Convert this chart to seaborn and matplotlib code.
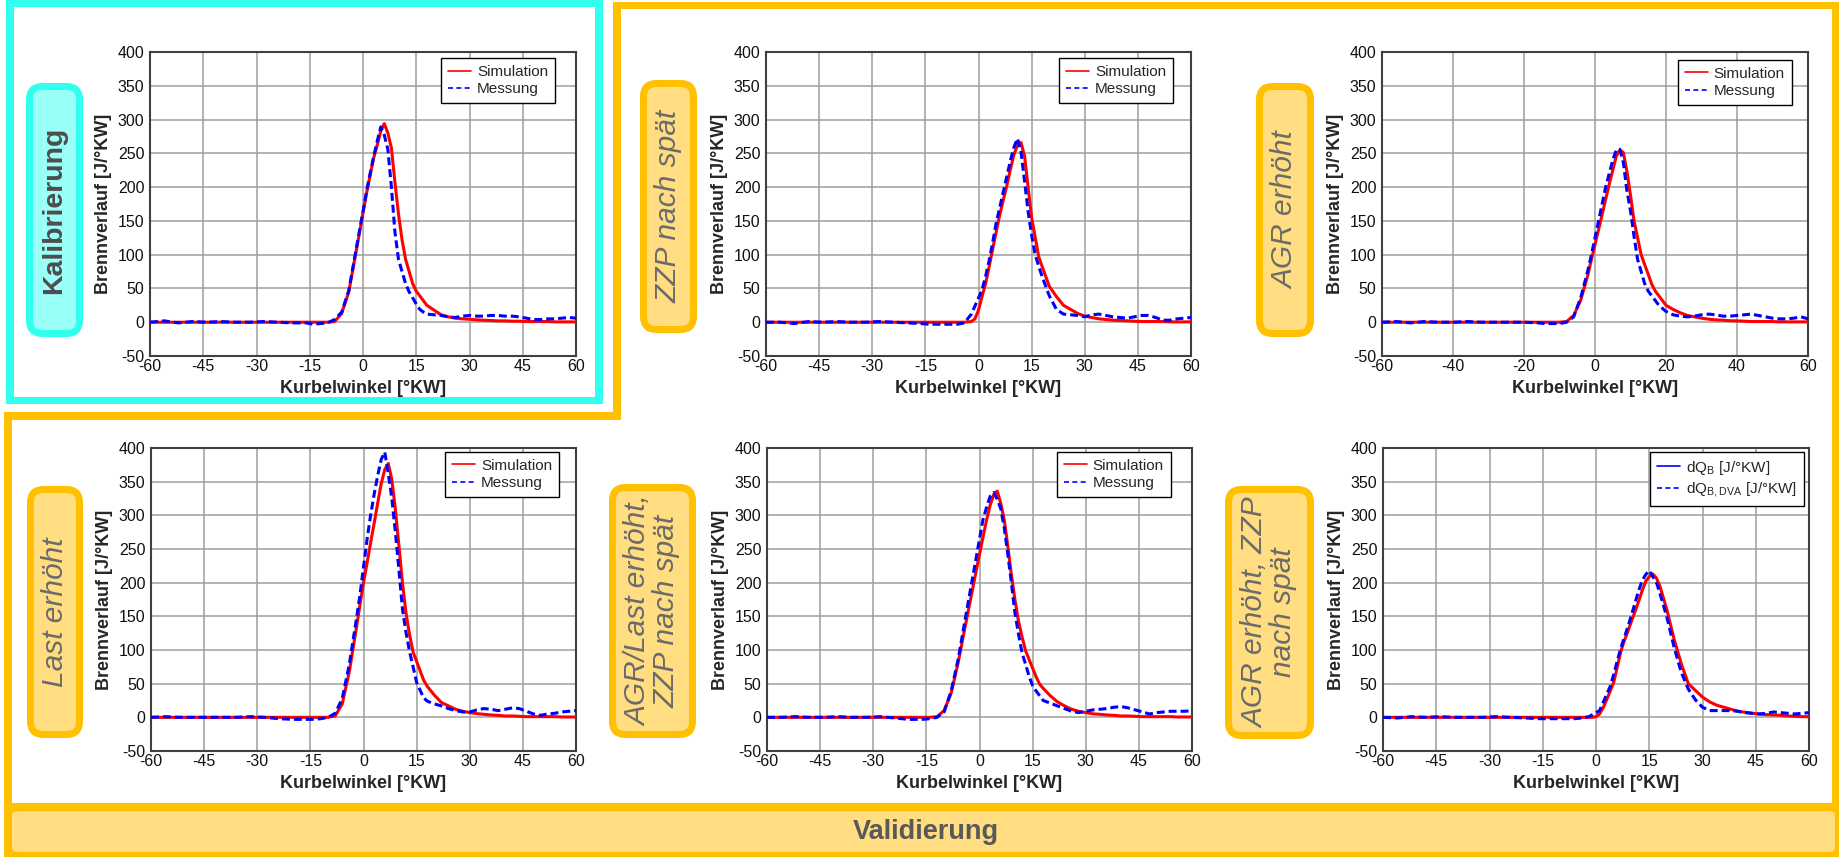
import seaborn as sns
import matplotlib.pyplot as plt
from matplotlib.patches import Rectangle, FancyBboxPatch
from matplotlib.lines import Line2D

# crank angle grid [°KW]
kw = [-60, -56, -52, -48, -44, -40, -36, -32, -28, -24, -20, -16,
      -14, -12, -10, -8, -6, -4,
      -2, -1, 0, 1, 2, 3, 4, 5, 6, 7, 8, 9, 10, 11, 12, 13, 14, 15, 16, 17, 18,
      20, 22, 24, 26, 28, 30, 32, 34, 36, 38, 40, 42, 44, 46, 48, 50, 52, 54, 56, 58, 60]

# heat release rate [J/°KW], simulation / measurement per operating point
sim_kal = [0, 0, 0, 0, 0, 0, 0, 0, 0, 0, 0, 0,
           0, 0, 0, 1, 13, 45,
           103, 132, 162, 191, 217, 243, 262, 283, 294, 280, 258, 207, 160, 122, 93, 75, 57, 46, 39, 32, 25,
           18, 11, 8, 6, 5, 4.5, 3.5, 3, 2.5, 2, 2, 1.5, 1.5, 1, 1, 1, 1, 0.5, 0.5, 0.5, 0.5]
mes_kal = [0, 2, -1, 1, 0, 1, 0, 0, 1, 0, -1, -1,
           -3, -2, -1, 4, 15, 47,
           106, 135, 164, 194, 220, 245, 268, 289, 277, 256, 200, 133, 93, 75, 57, 45, 36, 27, 19, 15, 12,
           11, 10, 8, 7, 9, 10, 9, 9, 10, 10, 9, 9, 8, 6, 4, 4, 5, 5, 6, 7, 6]

sim_zzp = [0, 0, 0, 0, 0, 0, 0, 0, 0, 0, 0, 0,
           0, 0, 0, 0, 0, 0,
           1, 5, 18, 38, 57, 82, 108, 134, 159, 181, 202, 226, 248, 262, 266, 246, 200, 155, 126, 97, 82,
           53, 38, 25, 19, 13, 9, 7, 5, 4, 3, 2.5, 2, 1.5, 1, 1, 1, 1, 0.5, 0.5, 0.5, 0.5]
mes_zzp = [0, 0, -2, 1, 0, 1, 0, 0, 1, 0, -1, -2,
           -3, -3, -3, -3, -3, -1,
           12, 24, 36, 48, 68, 91, 118, 147, 170, 193, 216, 239, 259, 272, 252, 209, 164, 129, 100, 83, 67,
           39, 19, 12, 11, 10, 8, 11, 12, 10, 8, 7, 6, 8, 10, 10, 7, 3, 3, 5, 6, 7]

sim_agr = [0, 0, 0, 0, 0, 0, 0, 0, 0, 0, 0, 0,
           0, 0, 0, 1, 10, 33,
           70, 93, 115, 137, 159, 182, 204, 225, 246, 255, 251, 223, 188, 150, 125, 100, 85, 71, 56, 46, 39,
           25, 19, 14, 10, 8, 6, 4.5, 3.5, 3, 2.2, 2, 1.5, 1, 1, 1, 1, 0.5, 0.5, 0.5, 0.5, 0.5]
mes_agr = [0, 1, -1, 1, 0, 0, 1, 0, 0, 0, 0, -1,
           -2, -2, -2, 0, 8, 37,
           77, 100, 125, 150, 175, 200, 220, 240, 255, 256, 236, 194, 165, 127, 93, 75, 57, 46, 39, 32, 25,
           16, 11, 9, 8, 9, 11, 12, 11, 9, 9, 10, 11, 12, 10, 8, 6, 5, 5, 6, 8, 5]

sim_last = [0, 0, 0, 0, 0, 0, 0, 0, 0, 0, 0, 0,
            0, 0, 0, 2, 20, 68,
            133, 167, 200, 229, 259, 288, 318, 347, 368, 377, 353, 309, 255, 200, 155, 123, 97, 83, 69, 55, 46,
            33, 22, 17, 12, 9, 7, 5.5, 4.5, 3.5, 3, 2, 2, 1.5, 1, 1, 1, 1, 1, 0.5, 0.5, 0.5]
mes_last = [0, 1, 0, 0, 0, 0, 0, 1, 0, -2, -3, -3,
            -3, -2, 0, 6, 28, 79,
            146, 182, 223, 264, 300, 331, 359, 383, 394, 362, 325, 275, 219, 161, 126, 98, 75, 52, 40, 29, 24,
            20, 17, 13, 10, 8, 8, 11, 13, 12, 10, 12, 14, 13, 9, 5, 3, 5, 6, 8, 9, 10]

sim_agr_last = [0, 0, 0, 0, 0, 0, 0, 0, 0, 0, 0, 0,
                0, 1, 10, 36, 82, 136,
                189, 216, 242, 268, 293, 315, 330, 336, 318, 293, 254, 212, 175, 143, 120, 99, 86, 73, 60, 49, 43,
                32, 23, 17, 12, 9, 7, 5.2, 4.5, 3.5, 3, 2, 2, 1.5, 1, 1, 1, 1, 1, 0.5, 0.5, 0.5]
mes_agr_last = [0, 0, 1, 0, 0, 1, 0, 0, 1, -1, -3, -3,
                -2, 0, 8, 39, 87, 147,
                206, 235, 265, 294, 312, 328, 334, 324, 310, 281, 242, 200, 155, 124, 96, 79, 61, 47, 39, 32, 25,
                21, 17, 13, 9, 7, 9, 11, 12, 13, 15, 16, 14, 11, 8, 5, 7, 8, 9, 9, 9, 10]

sim_agr_zzp = [0, 0, 0, 0, 0, 0, 0, 0, 0, 0, 0, 0,
               0, 0, 0, 0, 0, 0,
               0, 0, 1, 5, 14, 26, 39, 52, 75, 98, 114, 128, 143, 157, 172, 188, 202, 209, 213, 207, 195,
               159, 116, 80, 50, 40, 30, 23, 18, 15, 12, 9, 7.5, 6, 5, 4, 3.5, 3, 2, 1.5, 1, 1]
mes_agr_zzp = [0, -1, 1, 0, 1, 0, 0, 0, 1, 0, -1, -2,
               -2, -2, -2, -2, -2, -1,
               1, 4, 7, 10, 22, 34, 46, 64, 84, 103, 119, 135, 152, 170, 188, 203, 212, 218, 209, 201, 184,
               148, 104, 67, 42, 26, 15, 10, 10, 10, 10, 9, 7, 6, 5, 6, 8, 7, 6, 5, 6, 7]

panel_names = ["Kalibrierung", "ZZP nach spät", "AGR erhöht",
               "Last erhöht", "AGR/Last erhöht,\nZZP nach spät", "AGR erhöht, ZZP\nnach spät"]
sim_series = [sim_kal, sim_zzp, sim_agr, sim_last, sim_agr_last, sim_agr_zzp]
mes_series = [mes_kal, mes_zzp, mes_agr, mes_last, mes_agr_last, mes_agr_zzp]
legend_labels = [["Simulation", "Messung"]] * 5 + [["dQ$_{B}$ [J/°KW]", "dQ$_{B,DVA}$ [J/°KW]"]]
x_ticks_15 = [-60, -45, -30, -15, 0, 15, 30, 45, 60]
x_ticks_20 = [-60, -40, -20, 0, 20, 40, 60]
y_ticks = [-50, 0, 50, 100, 150, 200, 250, 300, 350, 400]

# ---- layout (pixels of the 1839x857 image) ----
W, H = 1839, 857
CYAN, CYAN_FILL = "#33FFEE", "#9AFFF7"
ORANGE, YELLOW_FILL = "#FFC000", "#FFDD80"
RED, BLUE = "#FF0000", "#0000FF"

sns.set_style("white")
plt.rcParams["font.family"] = ["Liberation Sans", "DejaVu Sans"]
plt.rcParams["axes.unicode_minus"] = False
plt.rcParams["mathtext.default"] = "regular"

fig = plt.figure(figsize=(W / 100, H / 100), dpi=100)

bg = fig.add_axes([0, 0, 1, 1], zorder=0)
bg.set_xlim(0, W)
bg.set_ylim(H, 0)
bg.axis("off")


def bar(x0, y0, x1, y1, color):
    bg.add_patch(Rectangle((x0, y0), x1 - x0, y1 - y0, facecolor=color, edgecolor="none"))


def label_box(box, text, edge, fill, **text_kws):
    x0, y0, x1, y1 = box
    lw = 7
    bg.add_patch(FancyBboxPatch((x0 + lw / 2, y0 + lw / 2), x1 - x0 - lw, y1 - y0 - lw,
                                boxstyle="round,pad=0,rounding_size=13",
                                facecolor=fill, edgecolor=edge, linewidth=lw * 0.72))
    bg.text((x0 + x1) / 2, (y0 + y1) / 2, text, rotation=90, ha="center", va="center",
            multialignment="center", **text_kws)


# cyan frame (Kalibrierung)
bar(6, 0, 603, 7, CYAN)
bar(6, 0, 14, 404, CYAN)
bar(595, 0, 603, 404, CYAN)
bar(6, 397, 603, 404, CYAN)
# orange frame (Validierung)
bar(613, 2, 1839, 9, ORANGE)
bar(613, 2, 621, 420, ORANGE)
bar(4, 412, 621, 420, ORANGE)
bar(4, 412, 12, 857, ORANGE)
bar(1832, 2, 1839, 857, ORANGE)
bar(4, 803, 1839, 857, ORANGE)
bg.add_patch(FancyBboxPatch((12, 811), 1823, 41, boxstyle="round,pad=0,rounding_size=5",
                            facecolor=YELLOW_FILL, edgecolor="none"))
bg.text(926, 832, "Validierung", ha="center", va="center", fontsize=19.5,
        fontweight="bold", color="#595959")

label_boxes = [(26, 83, 83, 337), (640, 80, 697, 333), (1256, 83, 1314, 337),
               (27, 486, 83, 738), (609, 484, 696, 738), (1225, 486, 1314, 739)]
for i, (box, name) in enumerate(zip(label_boxes, panel_names)):
    if i == 0:
        label_box(box, name, CYAN, CYAN_FILL, fontsize=20.5, fontweight="bold", color="#4D4D4D")
    else:
        label_box(box, name, ORANGE, YELLOW_FILL, fontsize=21.5, fontstyle="italic",
                  color="#6B6B6B", linespacing=1.0)

axes_px = [(150, 52, 576, 356), (766, 52, 1191, 356), (1382, 52, 1808, 356),
           (151, 448, 576, 751), (767, 448, 1192, 751), (1383, 448, 1809, 751)]
legend_anchor = [(0.951, 0.98), (0.958, 0.98), (0.962, 0.974),
                 (0.96, 0.987), (0.95, 0.987), (0.988, 0.987)]

for i in range(6):
    x0, y0, x1, y1 = axes_px[i]
    ax = fig.add_axes([x0 / W, 1 - y1 / H, (x1 - x0) / W, (y1 - y0) / H], zorder=2)
    ax.set_facecolor("white")
    sns.lineplot(x=kw, y=sim_series[i], ax=ax, color=RED, linewidth=2.2,
                 errorbar=None, zorder=3)
    sns.lineplot(x=kw, y=mes_series[i], ax=ax, color=BLUE, linewidth=2.2,
                 linestyle=(0, (2.6, 1.3)), errorbar=None, zorder=4)

    ax.set_xlim(-60, 60)
    ax.set_ylim(-50, 400)
    ax.set_xticks(x_ticks_20 if i == 2 else x_ticks_15)
    ax.set_yticks(y_ticks)
    ax.grid(True, color="#9E9E9E", linewidth=1.1)
    ax.set_axisbelow(True)
    for s in ax.spines.values():
        s.set_visible(True)
        s.set_color("#404040")
        s.set_linewidth(1.5)
    ax.tick_params(length=0, labelsize=11.5, colors="#111111")
    ax.tick_params(axis="x", pad=2.5)
    ax.tick_params(axis="y", pad=4)
    ax.set_xlabel("Kurbelwinkel [°KW]", fontsize=13, fontweight="bold", labelpad=4)
    ax.set_ylabel("Brennverlauf [J/°KW]", fontsize=13, fontweight="bold", labelpad=4)

    if i < 5:
        handles = [Line2D([], [], color=RED, lw=1.2),
                   Line2D([], [], color=BLUE, lw=1.2, ls=(0, (3, 2)))]
    else:
        handles = [Line2D([], [], color=BLUE, lw=1.2),
                   Line2D([], [], color=BLUE, lw=1.2, ls=(0, (3, 2)))]
    leg = ax.legend(handles, legend_labels[i], loc="upper right",
                    bbox_to_anchor=legend_anchor[i], borderaxespad=0, fontsize=11,
                    frameon=True, fancybox=False, edgecolor="black", framealpha=1,
                    handlelength=1.5, handletextpad=0.4, borderpad=0.45, labelspacing=0.22)
    leg.get_frame().set_linewidth(1.0)

fig.savefig("out.png", dpi=100)
